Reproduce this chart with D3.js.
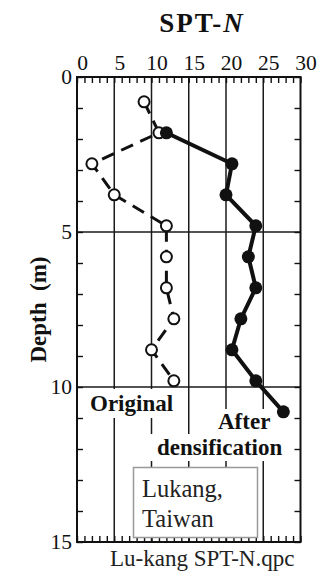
<!DOCTYPE html>
<html>
<head>
<meta charset="utf-8">
<script src="https://cdn.jsdelivr.net/npm/d3@7"></script>
<style>
  html, body { margin: 0; padding: 0; background: #fff; }
  svg { display: block; font-family: "Liberation Serif", "Times New Roman", serif; }
</style>
</head>
<body>
<svg id="chart" width="323" height="575"></svg>
<script>
// SPT blow counts with depth, before and after densification
const depthOriginal = [0.8, 1.8, 2.8, 3.8, 4.8, 5.8, 6.8, 7.8, 8.8, 9.8];
const nOriginal     = [9, 11, 2, 5, 12, 12, 12, 13, 10, 13];
const depthAfter    = [1.8, 2.8, 3.8, 4.8, 5.8, 6.8, 7.8, 8.8, 9.8, 10.8];
const nAfter        = [12, 20.8, 20, 24, 23, 24, 22, 20.8, 24, 27.7];

const xTickLabels = [0, 5, 10, 15, 20, 25, 30];
const yTickLabels = [0, 5, 10, 15];
const xGrid = [5, 10, 15, 20, 25];
const yGrid = [5, 10];

const plot = { left: 77, right: 300.5, top: 77, bottom: 542 };

const svg = d3.select("#chart");

const x = d3.scaleLinear().domain([0, 30]).range([plot.left, plot.right]);
const y = d3.scaleLinear().domain([0, 15]).range([plot.top, plot.bottom]);

// grid
const grid = svg.append("g").attr("stroke", "#1a1a1a").attr("stroke-width", 1.5);
grid.selectAll("line.gx").data(xGrid).join("line")
  .attr("class", "gx")
  .attr("x1", d => x(d)).attr("x2", d => x(d))
  .attr("y1", plot.top).attr("y2", plot.bottom);
grid.selectAll("line.gy").data(yGrid).join("line")
  .attr("class", "gy")
  .attr("x1", plot.left).attr("x2", plot.right)
  .attr("y1", d => y(d)).attr("y2", d => y(d));

// minor ticks pointing into the plot on all four sides
function clean(g) { g.select(".domain").remove(); g.selectAll("line").attr("stroke", "#111").attr("stroke-width", 1.4); }
const unitsX = d3.range(0, 31);
const unitsY = d3.range(0, 16);
svg.append("g").attr("transform", `translate(0,${plot.top})`)
  .call(d3.axisBottom(x).tickValues(unitsX).tickSize(6).tickFormat("")).call(clean);
svg.append("g").attr("transform", `translate(0,${plot.bottom})`)
  .call(d3.axisTop(x).tickValues(unitsX).tickSize(6).tickFormat("")).call(clean);
svg.append("g").attr("transform", `translate(${plot.left},0)`)
  .call(d3.axisRight(y).tickValues(unitsY).tickSize(6).tickFormat("")).call(clean);
svg.append("g").attr("transform", `translate(${plot.right},0)`)
  .call(d3.axisLeft(y).tickValues(unitsY).tickSize(6).tickFormat("")).call(clean);

// labelled text with a white backing that hides the grid behind it
function label(txt, tx, ty, opts) {
  const g = svg.append("g");
  const t = g.append("text")
    .attr("x", tx).attr("y", ty)
    .attr("text-anchor", opts.anchor || "start")
    .attr("font-size", opts.size)
    .attr("font-weight", opts.weight || "normal")
    .attr("fill", "#111")
    .text(txt);
  const b = t.node().getBBox();
  const px = opts.padX || 0, py = opts.padY || 0;
  g.insert("rect", "text")
    .attr("x", b.x - px).attr("y", b.y - py)
    .attr("width", b.width + 2 * px).attr("height", b.height + 2 * py)
    .attr("fill", "#fff");
}
label("Original", 90, 411, { size: 23, weight: "bold", padX: 2, padY: 2 });
label("After", 218, 429, { size: 23, weight: "bold", padX: 8, padY: 0 });
label("densification", 157, 455, { size: 23, weight: "bold", padX: 8, padY: 1 });

// site box
const site = svg.append("g");
site.append("rect")
  .attr("x", 133.5).attr("y", 467.5).attr("width", 124).attr("height", 70)
  .attr("fill", "#fff").attr("stroke", "#999").attr("stroke-width", 1.5);
site.append("text").attr("x", 142).attr("y", 497).attr("font-size", 24.5).attr("fill", "#222").text("Lukang,");
site.append("text").attr("x", 142).attr("y", 527).attr("font-size", 24.5).attr("fill", "#222").text("Taiwan");

// frame
svg.append("rect")
  .attr("x", plot.left).attr("y", plot.top)
  .attr("width", plot.right - plot.left).attr("height", plot.bottom - plot.top)
  .attr("fill", "none").attr("stroke", "#111").attr("stroke-width", 2);

// tick labels
svg.append("g").attr("transform", `translate(0,${plot.top})`)
  .call(d3.axisTop(x).tickValues(xTickLabels).tickSize(0).tickPadding(7).tickFormat(d3.format("d")))
  .call(g => g.select(".domain").remove())
  .call(g => g.selectAll("text").attr("dx", 5).attr("font-size", 21.5)
    .attr("font-family", "Liberation Serif, serif").attr("fill", "#111"));
svg.append("g").attr("transform", `translate(${plot.left},0)`)
  .call(d3.axisLeft(y).tickValues(yTickLabels).tickSize(0).tickPadding(5).tickFormat(d3.format("d")))
  .call(g => g.select(".domain").remove())
  .call(g => g.selectAll("text").attr("font-size", 21.5)
    .attr("font-family", "Liberation Serif, serif").attr("fill", "#111"));

// titles
const title = svg.append("text")
  .attr("x", 202).attr("y", 32).attr("text-anchor", "middle")
  .attr("font-size", 27).attr("font-weight", "bold").attr("letter-spacing", 2).attr("fill", "#111");
title.append("tspan").text("SPT-");
title.append("tspan").attr("font-style", "italic").text("N");

svg.append("text")
  .attr("transform", `translate(46,${(plot.top + plot.bottom) / 2}) rotate(-90)`)
  .attr("text-anchor", "middle").attr("font-size", 23).attr("font-weight", "bold").attr("fill", "#111")
  .attr("xml:space", "preserve")
  .text("Depth  (m)");

svg.append("text")
  .attr("x", 110).attr("y", 566).attr("font-size", 23).attr("fill", "#222")
  .text("Lu-kang SPT-N.qpc");

// data series
const orig = depthOriginal.map((d, i) => ({ depth: d, n: nOriginal[i] }));
const after = depthAfter.map((d, i) => ({ depth: d, n: nAfter[i] }));
const line = d3.line().x(d => x(d.n)).y(d => y(d.depth));

svg.append("path").datum(orig)
  .attr("d", line).attr("fill", "none")
  .attr("stroke", "#111").attr("stroke-width", 3).attr("stroke-dasharray", "13,8");
svg.append("g").selectAll("circle").data(orig).join("circle")
  .attr("cx", d => x(d.n)).attr("cy", d => y(d.depth)).attr("r", 5.5)
  .attr("fill", "#fff").attr("stroke", "#111").attr("stroke-width", 2);

svg.append("path").datum(after)
  .attr("d", line).attr("fill", "none")
  .attr("stroke", "#111").attr("stroke-width", 4).attr("stroke-linejoin", "round");
svg.append("g").selectAll("circle").data(after).join("circle")
  .attr("cx", d => x(d.n)).attr("cy", d => y(d.depth)).attr("r", 6.5)
  .attr("fill", "#111");
</script>
</body>
</html>
